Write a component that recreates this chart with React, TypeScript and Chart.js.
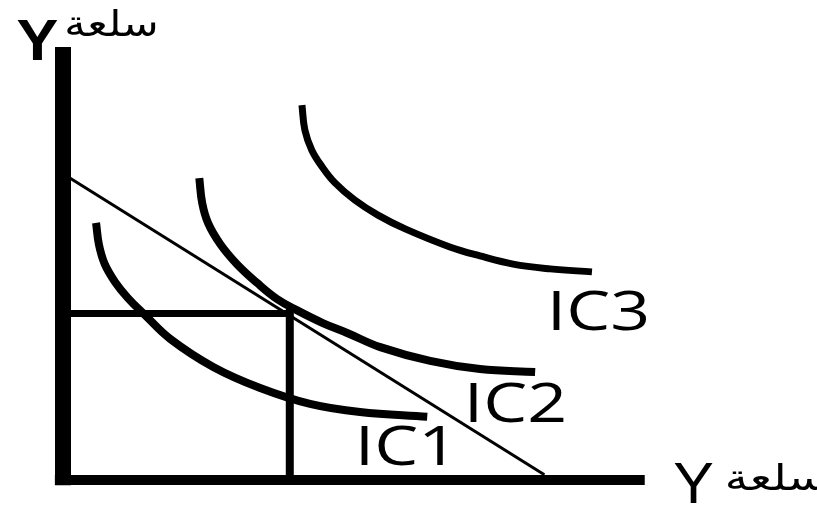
import React, { useEffect, useRef } from "react";
import { Chart, registerables } from "chart.js";

Chart.register(...registerables);

// Indifference curves (x = good X quantity, y = good Y quantity)
const ic1X = [0.57, 0.62, 0.72, 0.9, 1.12, 1.41, 1.85, 2.59, 3.4, 4.26, 5.12, 6.28];
const ic1Y = [5.98, 5.47, 5.02, 4.6, 4.23, 3.84, 3.28, 2.63, 2.14, 1.77, 1.58, 1.47];
const ic2X = [2.35, 2.4, 2.5, 2.71, 3.0, 3.35, 3.69, 4.03, 4.48, 4.9, 5.47, 6.33, 7.19, 8.14];
const ic2Y = [7.02, 6.44, 5.98, 5.49, 5.02, 4.58, 4.21, 3.95, 3.65, 3.42, 3.09, 2.77, 2.58, 2.51];
const ic3X = [4.12, 4.17, 4.29, 4.47, 4.69, 5.03, 5.43, 5.9, 6.67, 7.19, 7.76, 8.4, 9.12];
const ic3Y = [8.72, 8.14, 7.67, 7.28, 6.91, 6.51, 6.16, 5.84, 5.42, 5.21, 5.02, 4.91, 4.84];

// Budget line and the optimum guides
const budgetX = [0, 8.3];
const budgetY = [7.12, 0.12];
const optimumX = 3.91;
const optimumY = 3.87;

// Axes lines
const axisYRange = [-0.12, 10.07];
const axisXRange = [-0.14, 10.03];

// Labels
const curveLabels = ["IC1", "IC2", "IC3"];
const curveLabelX = [5.03, 6.91, 8.34];
const curveLabelY = [0.35, 1.35, 3.49];
const axisLetter = "Y";
const axisWord = "سلعة";

const pts = (xs: number[], ys: number[]) => xs.map((x, i) => ({ x, y: ys[i] }));

export default function App() {
  const ref = useRef<HTMLCanvasElement | null>(null);
  useEffect(() => {
    if (!ref.current) return;
    const base = {
      showLine: true,
      pointRadius: 0,
      borderColor: "#000",
      backgroundColor: "#000",
      borderCapStyle: "butt" as const,
      borderJoinStyle: "round" as const,
      fill: false,
      clip: false as any,
    };
    const labelPlugin = {
      id: "labels",
      afterDatasetsDraw(chart: any) {
        const { ctx, scales } = chart;
        const sx = scales.x;
        const sy = scales.y;
        const word = (px: number, py: number, font: string, k: number, t: string) => {
          ctx.save();
          ctx.translate(px, py);
          ctx.scale(k, 1);
          ctx.font = font;
          ctx.fillText(t, 0, 0);
          ctx.restore();
        };
        ctx.save();
        ctx.fillStyle = "#000";
        ctx.textBaseline = "alphabetic";
        ctx.textAlign = "left";
        curveLabels.forEach((t, i) => {
          word(sx.getPixelForValue(curveLabelX[i]), sy.getPixelForValue(curveLabelY[i]), "400 55px 'Open Sans'", 1.27, t);
        });
        // Y axis title (top-left)
        word(sx.getPixelForValue(-0.8), sy.getPixelForValue(9.77), "700 57px 'Liberation Sans'", 1.1, axisLetter);
        word(sx.getPixelForValue(0.02), sy.getPixelForValue(10.33), "400 36px 'DejaVu Sans'", 1.2, axisWord);
        // X axis title (bottom-right)
        word(sx.getPixelForValue(10.52), sy.getPixelForValue(-0.53), "400 58px 'Liberation Sans'", 1.05, axisLetter);
        word(sx.getPixelForValue(11.41), sy.getPixelForValue(-0.23), "400 36px 'DejaVu Sans'", 1.3, axisWord);
        ctx.restore();
      },
    };
    const chart = new Chart(ref.current, {
      type: "scatter",
      data: {
        datasets: [
          { ...base, label: "axisY", data: [{ x: 0, y: axisYRange[0] }, { x: 0, y: axisYRange[1] }], borderWidth: 16 },
          { ...base, label: "axisX", data: [{ x: axisXRange[0], y: 0 }, { x: axisXRange[1], y: 0 }], borderWidth: 10 },
          { ...base, label: "budget", data: pts(budgetX, budgetY), borderWidth: 3 },
          { ...base, label: "hGuide", data: [{ x: 0, y: optimumY }, { x: optimumX + 0.06, y: optimumY }], borderWidth: 7 },
          { ...base, label: "vGuide", data: [{ x: optimumX, y: optimumY + 0.08 }, { x: optimumX, y: 0 }], borderWidth: 8 },
          { ...base, label: "IC1", data: pts(ic1X, ic1Y), borderWidth: 8, tension: 0.4 },
          { ...base, label: "IC2", data: pts(ic2X, ic2Y), borderWidth: 8, tension: 0.4 },
          { ...base, label: "IC3", data: pts(ic3X, ic3Y), borderWidth: 7, tension: 0.4 },
        ],
      },
      options: {
        animation: false,
        responsive: true,
        maintainAspectRatio: false,
        layout: { padding: { left: 63, right: 174, top: 50, bottom: 28 } },
        plugins: { legend: { display: false }, tooltip: { enabled: false } },
        events: [],
        scales: {
          x: { type: "linear", min: 0, max: 10, display: false },
          y: { type: "linear", min: 0, max: 10, display: false },
        },
      },
      plugins: [labelPlugin],
    });
    return () => chart.destroy();
  }, []);
  return (
    <div style={{ position: "fixed", left: 0, top: 0, width: 817, height: 508, background: "#fff" }}>
      <canvas ref={ref} />
    </div>
  );
}
